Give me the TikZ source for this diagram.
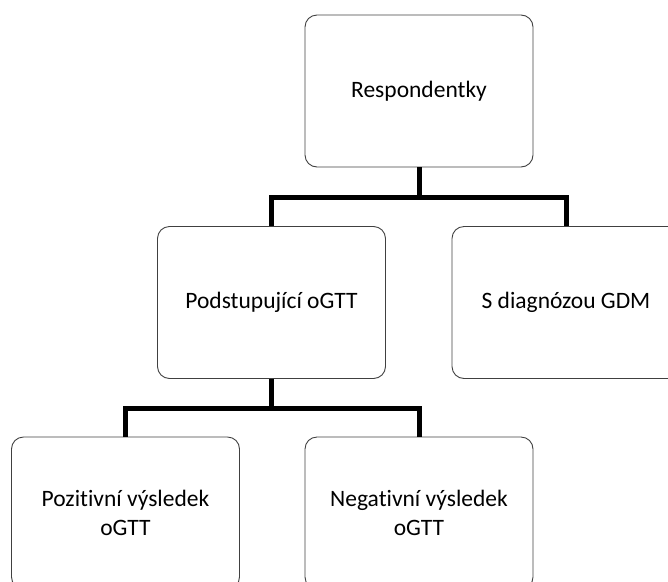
\documentclass[tikz,border=0pt]{standalone}
\usepackage{fontspec}
\setmainfont{Carlito}[Ligatures=NoCommon]
\usetikzlibrary{positioning}

\begin{document}
\begin{tikzpicture}[x=1pt,y=-1pt,on grid,
  font=\fontsize{23.5}{29}\selectfont]

  \tikzset{
    box/.style={draw=black!75,line width=0.9pt,rounded corners=12pt,
      minimum width=228pt,minimum height=152pt,align=center,inner sep=0pt},
    conn/.style={line width=5pt,black},
  }

   \useasboundingbox (0,0) rectangle (668,581);
   \clip (0,0) rectangle (668,581);

   \node[box] (resp) at (419,91) {Respondentky};

   % second row
   \node[box] (podst) [below left=211.5pt and 147.5pt of resp] {Podstupující oGTT};
   \node[box] (gdm) [below right=211.5pt and 147pt of resp] {S diagnózou GDM};

   % third row
   \node[box] (pozit) [below left=210.5pt and 146pt of podst] {Pozitivní výsledek\\oGTT};
   \node[box] (negat) [below right=210.5pt and 147.5pt of podst] {Negativní výsledek\\oGTT};

   \draw[conn] (resp.south) -- ++(0,30) -| (podst.north);
   \draw[conn] (resp.south) ++(0,30) -| (gdm.north);
   \draw[conn] (podst.south) -- ++(0,29.5) -| (pozit.north);
   \draw[conn] (podst.south) ++(0,29.5) -| (negat.north);

\end{tikzpicture}
\end{document}
